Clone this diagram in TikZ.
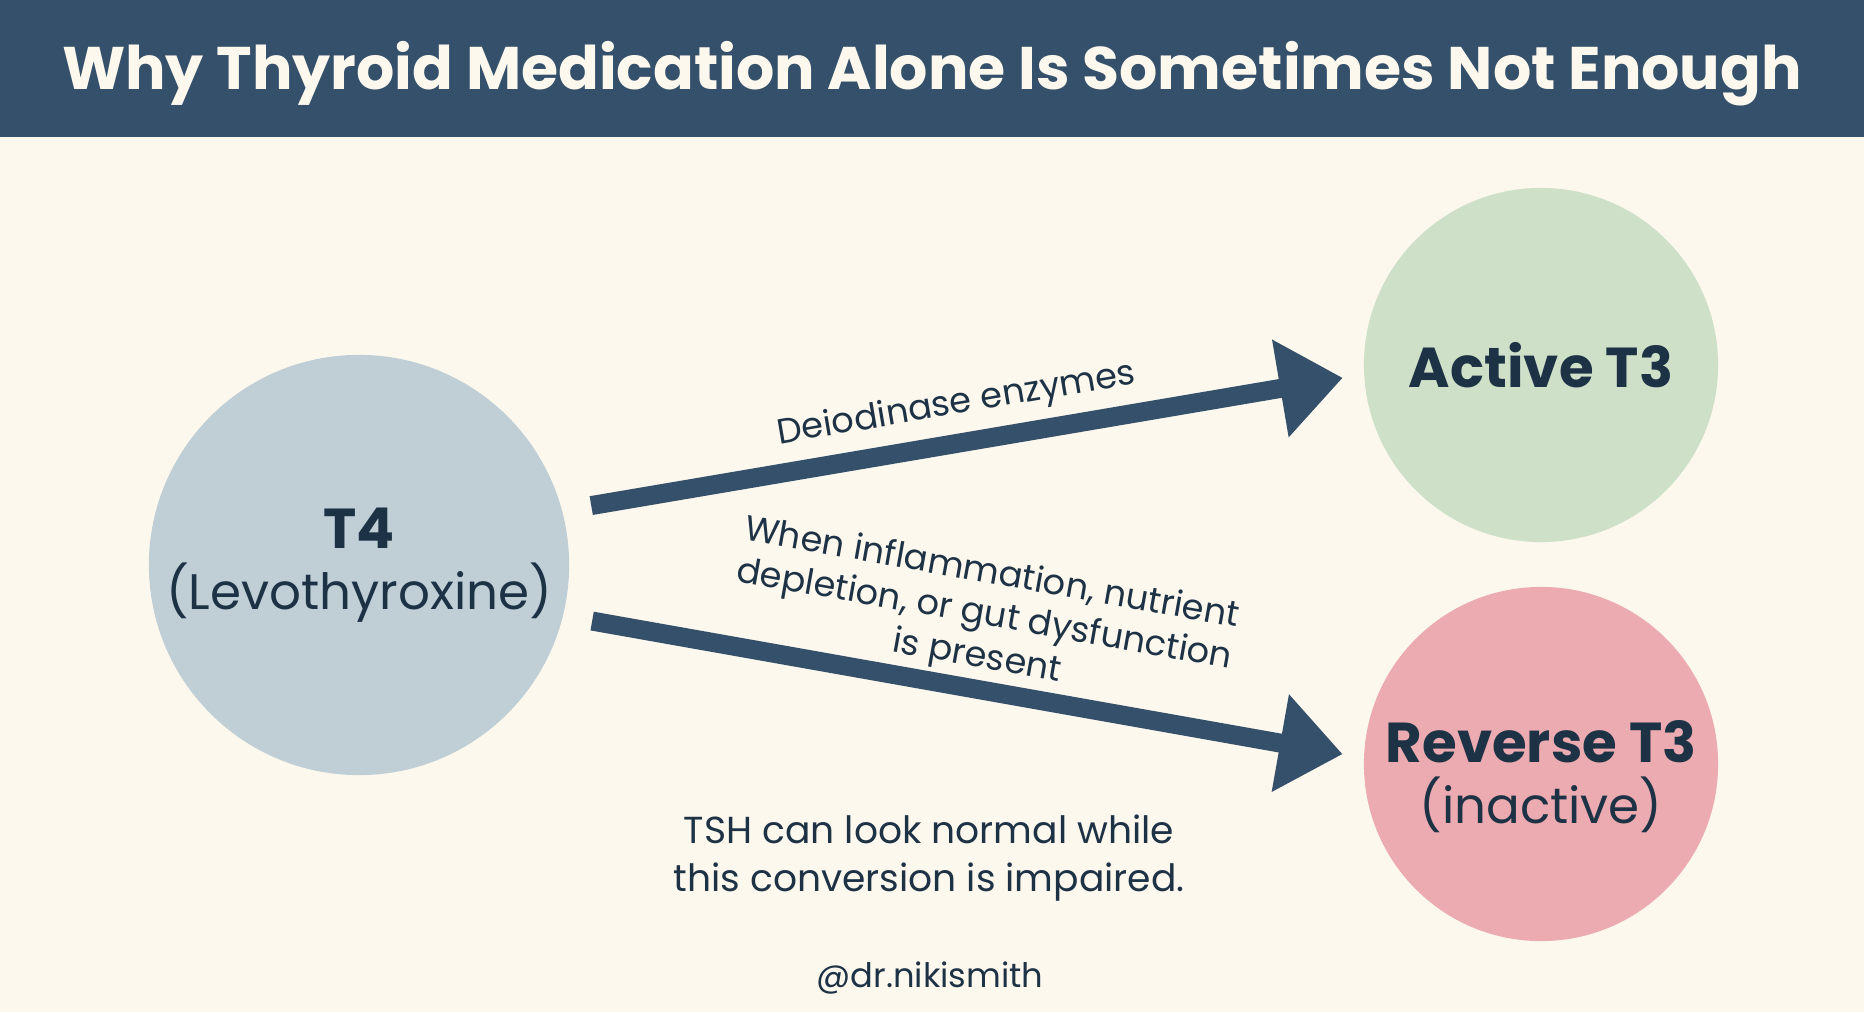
\documentclass[tikz,border=0pt]{standalone}
\usepackage{fontspec}
\setmainfont{Poppins}
\usetikzlibrary{arrows.meta}
\definecolor{navy}{HTML}{34506A}
\definecolor{ink}{HTML}{1E3246}
\definecolor{cream}{HTML}{FCF8EE}
\definecolor{bluegrey}{HTML}{BFCFD5}
\definecolor{sage}{HTML}{CFE0C9}
\definecolor{rose}{HTML}{EBABB0}
\tikzset{
  hormone/.style={
    circle,
    inner sep=0pt,
    align=center,
    text=ink,
    font=\fontsize{14.2}{17.5}\selectfont
  },
  bigcircle/.style={hormone, minimum size=4.2cm},
  smallcircle/.style={hormone, minimum size=3.54cm},
  arrow/.style={-{Triangle[length=18pt, width=27pt]}, line width=5.4pt, draw=navy},
  note/.style={font=\fontsize{10}{12}\selectfont, text=ink, align=center, inner sep=0pt}
}

\begin{document}
\begin{tikzpicture}[x=0.01cm,y=-0.01cm]
\fill[cream] (0,0) rectangle (1864,1012);
\fill[navy] (0,0) rectangle (1864,137);
\useasboundingbox (0,0) rectangle (1864,1012);
\node[font=\fontsize{17.1}{20}\selectfont\bfseries, text=cream] (title) at (932,74) {Why Thyroid Medication Alone Is Sometimes Not Enough};
\node[bigcircle, fill=bluegrey] (t4) at (359,565) {{\fontsize{16}{19}\selectfont\bfseries T4}\\(Levothyroxine)};
\node[smallcircle, fill=sage] (active) at (1541,365) {\fontsize{16}{19}\selectfont\bfseries Active T3};
\node[smallcircle, fill=rose] (reverse) at (1541,764) {\rule{0pt}{19pt}{\fontsize{16}{19}\selectfont\bfseries Reverse T3}\\(inactive)};
\node[note, font=\fontsize{10.7}{13.5}\selectfont] (tsh) at (929,858) {TSH can look normal while\\this conversion is impaired.};
\node[note, font=\fontsize{9.6}{12}\selectfont] (handle) at (930,978) {@dr.nikismith};

\draw[arrow, shorten <=0.29cm, shorten >=0.21cm] (t4.15) -- node[note, pos=0.50, sloped, above=3pt] {Deiodinase enzymes} (active.183);
\draw[arrow, shorten <=0.29cm, shorten >=0.21cm] (t4.-14) -- node[note, pos=0.51, sloped, above=1pt] {When inflammation, nutrient\\depletion, or gut dysfunction\\is present} (reverse.178);
\end{tikzpicture}
\end{document}
